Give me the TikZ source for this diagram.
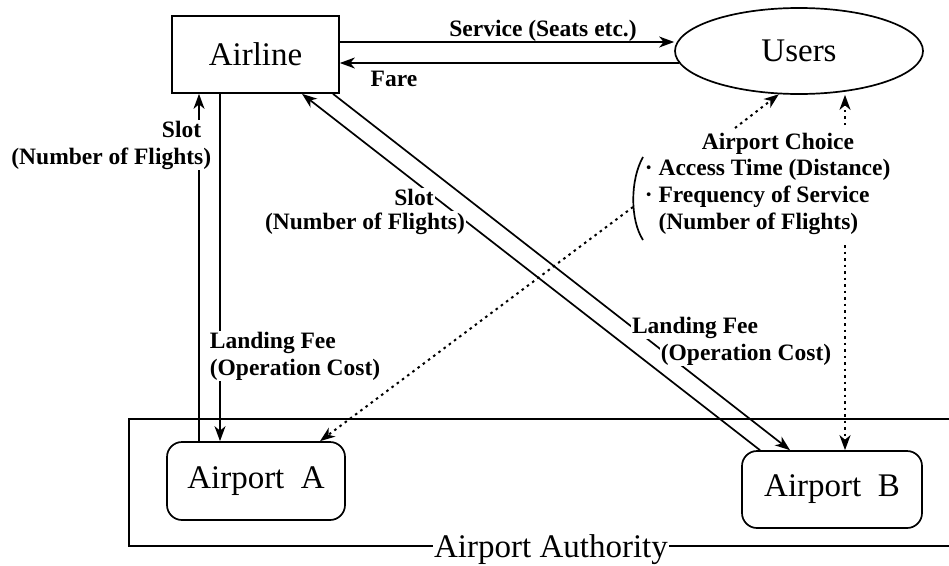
\documentclass[tikz,border=0pt]{standalone}
\usepackage{fontspec}
\setmainfont{Liberation Serif}
\usetikzlibrary{arrows.meta, shapes.geometric}

\begin{document}
\begin{tikzpicture}[x=1pt, y=-1pt, line width=1.7pt,
    big/.style={font=\fontsize{33}{38}\selectfont},
    lbl/.style={font=\bfseries\fontsize{23.5}{27}\selectfont, inner sep=1pt},
    onwire/.style={lbl, fill=white},
    flow/.style={-{Stealth[length=15pt,width=11pt,inset=4.5pt]}},
    choice/.style={flow, line width=2pt, dash pattern=on 2.5pt off 4pt},
    airport/.style={big, draw, rounded corners=15pt, minimum width=178pt, minimum height=78pt}]
    \useasboundingbox (0,0) rectangle (949,565);

    % actors
    \node[big, draw, minimum width=167pt, minimum height=77pt] (Airline) at (255.5,54.5) {Airline};
    \node[big, draw, ellipse, minimum width=248pt, minimum height=86pt] (Users) at (799,51) {Users};

    % airport authority
    \draw[line width=2pt] (949,419) -- (129,419) -- (129,546) -- (949,546);
    \node[big, fill=white, inner sep=1pt, anchor=base] (Authority) at (551,557) {Airport Authority};
    \node[airport] (AirportA) at (256,481) {Airport~ A};
    \node[airport, minimum width=180pt, minimum height=77pt] (AirportB) at (832,489.5) {Airport~ B};

    % airline <-> users
    \draw[flow] (Airline.east |- 0,42) -- (Users.west |- 0,42);
    \draw[flow] (Users.west |- 0,63) ++(5,0) -- (Airline.east |- 0,63);

    % airline <-> airports
    \draw[flow] (AirportA.north -| 199,0) -- (Airline.south -| 199,0);
    \draw[flow] (Airline.south -| 220,0) -- (AirportA.north -| 220,0);
    \draw[flow] (AirportB.north -| 760,0) -- (Airline.south -| 302,0);
    \draw[flow] (Airline.south -| 333,0) -- (AirportB.north -| 790,0);

    % airport choice
    \coordinate (chA) at (633,207);
    \coordinate (chU) at (735,128);
    \coordinate (upU) at (845,125);
    \coordinate (dnB) at (845,245);
    \draw[choice] (chA) -- (AirportA.north -| 320,0);
    \draw[choice] (chU) -- (Users.-115);
    \draw[choice] (upU) -- (Users.south -| upU);
    \draw[choice] (dnB) -- (AirportB.north -| dnB);

    % labels
    \node[lbl, anchor=base] (service) at (543,36) {Service (Seats etc.)};
    \node[lbl, anchor=base] (fare) at (394,86) {Fare};
    \node[onwire, align=right, anchor=east] (slotA) at (213,145)
      {Slot\kern10pt\\(Number of Flights)};
    \node[onwire, align=left, anchor=west] (feeA) at (208,356)
      {Landing Fee\\(Operation Cost)};
    \node[onwire, anchor=base] (slotB) at (414,205) {Slot};
    \node[onwire, anchor=base] (slotBn) at (365,229) {(Number of Flights)};
    \node[onwire, anchor=base] (feeB) at (695,333) {Landing Fee};
    \node[onwire, anchor=base] (feeBn) at (746,360) {(Operation Cost)};
    \node[lbl, anchor=base] (choicehead) at (778,149) {Airport Choice};
    \node[lbl, align=left, anchor=north west] (factors) at (643,157)
      {· Access Time (Distance)\\· Frequency of Service\\\hphantom{· }(Number of Flights)};
    \draw (643,157) .. controls (630,180) and (630,220) .. (643,240);
\end{tikzpicture}
\end{document}
